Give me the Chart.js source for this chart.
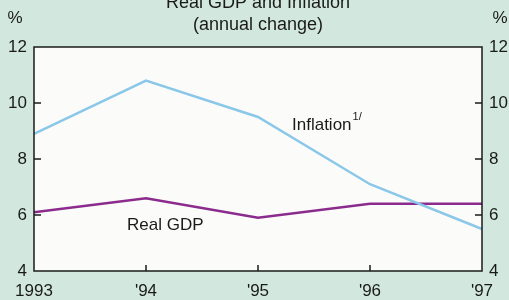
<!DOCTYPE html>
<html>
<head>
<meta charset="utf-8">
<script src="https://cdn.jsdelivr.net/npm/chart.js@4/dist/chart.umd.min.js"></script>
<style>
  html, body { margin: 0; padding: 0; background: #d2e8df; }
  #wrap { width: 509px; height: 300px; }
</style>
</head>
<body>
<div id="wrap"><canvas id="gdpChart" width="509" height="300"></canvas></div>
<script>
// chart values
const years = ["1993", "'94", "'95", "'96", "'97"];
const inflation = [8.9, 10.8, 9.5, 7.1, 5.5];
const realGdp = [6.1, 6.6, 5.9, 6.4, 6.4];
const yMin = 4;
const yMax = 12;
const yStep = 2;

const FONT = "'Liberation Sans', Arial, Helvetica, sans-serif";
const BG = "#d2e8df";
const INK = "#1a1a1a";

Chart.defaults.font.family = FONT;
Chart.defaults.font.size = 17;
Chart.defaults.color = INK;

// background, frame, inward ticks and the text labels
const framePlugin = {
  id: "frame",
  beforeDraw(chart) {
    const { ctx, chartArea: a } = chart;
    ctx.save();
    ctx.fillStyle = BG;
    ctx.fillRect(0, 0, chart.width, chart.height);
    ctx.fillStyle = "#fbfcfa";
    ctx.fillRect(a.left, a.top, a.right - a.left, a.bottom - a.top);
    ctx.restore();
  },
  afterDraw(chart) {
    const { ctx, chartArea: a, scales } = chart;
    ctx.save();
    ctx.strokeStyle = INK;
    ctx.lineWidth = 1.5;
    ctx.strokeRect(a.left, a.top, a.right - a.left, a.bottom - a.top);

    // tick marks pointing into the plot
    ctx.beginPath();
    for (let v = yMin + yStep; v < yMax; v += yStep) {
      const y = scales.y.getPixelForValue(v);
      ctx.moveTo(a.left, y);
      ctx.lineTo(a.left + 7, y);
      ctx.moveTo(a.right, y);
      ctx.lineTo(a.right - 7, y);
    }
    for (let i = 1; i < years.length - 1; i++) {
      const x = scales.x.getPixelForValue(i);
      ctx.moveTo(x, a.bottom);
      ctx.lineTo(x, a.bottom - 6);
    }
    ctx.stroke();

    // titles and unit marks
    ctx.fillStyle = INK;
    ctx.textAlign = "center";
    ctx.textBaseline = "middle";
    ctx.font = "18px " + FONT;
    const cx = (a.left + a.right) / 2;
    ctx.fillText("Real GDP and Inflation", cx, 3);
    ctx.fillText("(annual change)", cx, 25);
    ctx.font = "17px " + FONT;
    ctx.fillText("%", 15, 18);
    ctx.fillText("%", 500, 18);

    // series labels
    ctx.textAlign = "left";
    ctx.fillText("Real GDP", 127, 225);
    ctx.fillText("Inflation", 292, 125);
    const w = ctx.measureText("Inflation").width;
    ctx.font = "11px " + FONT;
    ctx.fillText("1/", 292 + w + 1, 117);
    ctx.restore();
  }
};

const yTickOpts = {
  padding: 7,
  autoSkip: false,
  stepSize: yStep
};

const noGrid = { display: false, drawTicks: false };

new Chart(document.getElementById("gdpChart"), {
  type: "line",
  data: {
    labels: years,
    datasets: [
      {
        label: "Inflation",
        data: inflation,
        borderColor: "#8ac7e8",
        borderWidth: 2.5,
        pointRadius: 0,
        tension: 0,
        yAxisID: "y"
      },
      {
        label: "Real GDP",
        data: realGdp,
        borderColor: "#8b2b8d",
        borderWidth: 2.5,
        pointRadius: 0,
        tension: 0,
        yAxisID: "y"
      }
    ]
  },
  options: {
    responsive: false,
    animation: false,
    layout: { padding: { top: 47, left: 0, right: 0, bottom: 0 } },
    plugins: {
      legend: { display: false },
      tooltip: { enabled: false }
    },
    scales: {
      x: {
        offset: false,
        grid: noGrid,
        border: { display: false },
        ticks: { padding: 10, maxRotation: 0, autoSkip: false },
        afterFit(s) { s.height = 29; }
      },
      y: {
        position: "left",
        min: yMin,
        max: yMax,
        grid: noGrid,
        border: { display: false },
        ticks: yTickOpts,
        afterFit(s) { s.width = 34; }
      },
      y2: {
        position: "right",
        min: yMin,
        max: yMax,
        grid: noGrid,
        border: { display: false },
        ticks: yTickOpts,
        afterFit(s) { s.width = 27; }
      }
    }
  },
  plugins: [framePlugin]
});
</script>
</body>
</html>
